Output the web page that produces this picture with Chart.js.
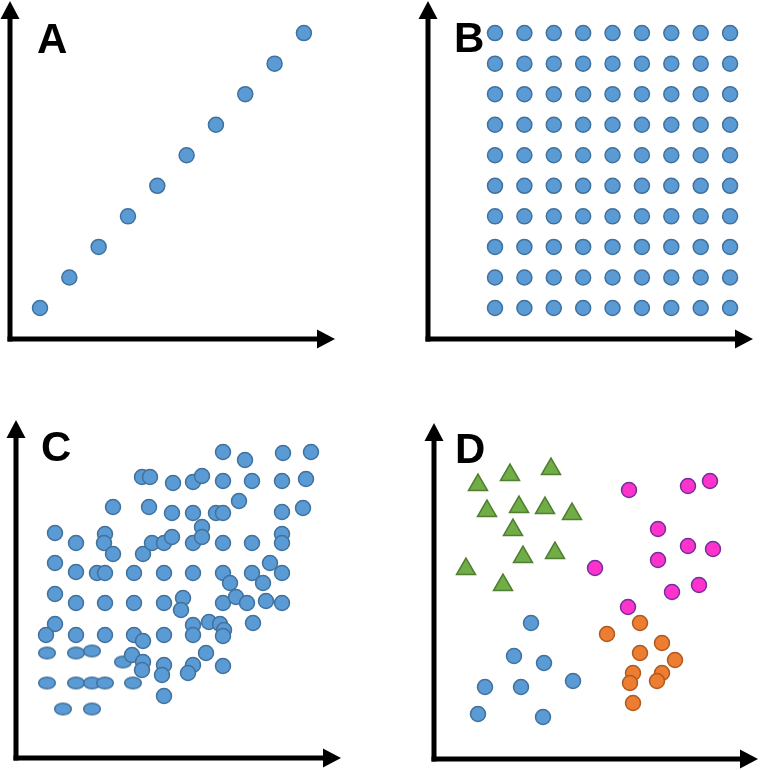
<!DOCTYPE html>
<html>
<head>
<meta charset="utf-8">
<script src="https://cdn.jsdelivr.net/npm/chart.js@4.4.1/dist/chart.umd.min.js"></script>
<style>
	body { margin: 0; background: #fff; overflow: hidden; }
	.quadro { position: absolute; width: 380px; height: 385px; }
	.quadro canvas { display: block; }
</style>
</head>
<body>
<div class="quadro" style="left:0;top:0"><canvas id="grafico_a" width="380" height="385"></canvas></div>
<div class="quadro" style="left:380px;top:0"><canvas id="grafico_b" width="380" height="385"></canvas></div>
<div class="quadro" style="left:0;top:385px"><canvas id="grafico_c" width="380" height="385"></canvas></div>
<div class="quadro" style="left:380px;top:385px"><canvas id="grafico_d" width="380" height="385"></canvas></div>
<script>
// A: linha perfeita
var linha_x = [1, 2, 3, 4, 5, 6, 7, 8, 9, 10];
var linha_y = [1, 2, 3, 4, 5, 6, 7, 8, 9, 10];

// B: grade regular
var grade_colunas = [1, 2, 3, 4, 5, 6, 7, 8, 9];
var grade_linhas = [1, 2, 3, 4, 5, 6, 7, 8, 9, 10];

// C: nuvem (circulos e elipses)
var nuvem_x = [207, 229, 267, 295,
	126, 134, 157, 177, 186, 207, 236, 266, 290,
	97, 133, 156, 177, 200, 207, 223, 266, 287,
	39, 60, 89, 88, 97, 127, 136, 148, 156, 177, 186, 186, 207, 236, 266, 266,
	39, 60, 81, 89, 118, 148, 177, 207, 236, 254, 266, 214, 247,
	39, 60, 89, 118, 148, 167, 165, 207, 220, 231, 250, 266,
	39, 30, 60, 89, 118, 127, 148, 177, 177, 193, 204, 208, 207, 237,
	116, 127, 126, 148, 146, 177, 172, 190, 207,
	148];
var nuvem_y = [306, 298, 305, 306,
	281, 281, 275, 276, 282, 277, 277, 277, 279,
	251, 251, 245, 245, 245, 245, 257, 246, 250,
	225, 215, 224, 215, 204, 204, 215, 215, 221, 215, 231, 221, 215, 215, 224, 215,
	195, 186, 185, 185, 185, 185, 185, 185, 185, 195, 185, 175, 175,
	164, 155, 155, 155, 155, 160, 148, 155, 161, 155, 157, 155,
	134, 123, 123, 123, 123, 117, 123, 133, 123, 136, 134, 128, 122, 135,
	103, 96, 88, 93, 83, 93, 85, 105, 92,
	62];
var elipse_x = [31, 60, 76, 107, 31, 60, 76, 89, 117, 47, 76];
var elipse_y = [105, 105, 107, 96, 75, 75, 75, 75, 75, 49, 49];

// D: grupos
var triangulos_x = [44, 76, 117, 53, 85, 111, 138, 79, 89, 121, 32, 69];
var triangulos_y = [274, 284, 290, 248, 252, 251, 245, 229, 202, 206, 190, 174];
var rosa_x = [195, 254, 276, 224, 254, 279, 224, 161, 265, 238, 194];
var rosa_y = [269, 273, 278, 230, 213, 210, 199, 191, 174, 167, 152];
var laranja_x = [206, 173, 228, 206, 241, 199, 228, 196, 223, 199];
var laranja_y = [136, 125, 116, 106, 99, 86, 86, 76, 78, 56];
var azul_x = [97, 80, 110, 139, 51, 87, 44, 109];
var azul_y = [136, 103, 96, 78, 72, 72, 45, 42];

var AZUL = "#5B9BD5", AZUL_BORDA = "#41719C";

function pontos(xs, ys) {
	var lista = [];
	for (var i = 0; i < xs.length; i++) lista.push({ x: xs[i], y: ys[i] });
	return lista;
}

var setas = {
	id: "setas",
	afterDraw: function (chart, args, opcoes) {
		var ctx = chart.ctx;
		var area = chart.chartArea;
		var esp = 5, cab = 18, larg = 19;
		ctx.save();
		ctx.fillStyle = "#000";
		ctx.fillRect(area.left - esp / 2, area.top + cab - 1, esp, area.bottom - area.top - cab + esp / 2 + 1);
		ctx.fillRect(area.left - esp / 2, area.bottom - esp / 2, area.right - area.left - cab + esp / 2 + 1, esp);
		ctx.beginPath();
		ctx.moveTo(area.left, area.top);
		ctx.lineTo(area.left - larg / 2, area.top + cab);
		ctx.lineTo(area.left + larg / 2, area.top + cab);
		ctx.closePath();
		ctx.fill();
		ctx.beginPath();
		ctx.moveTo(area.right, area.bottom);
		ctx.lineTo(area.right - cab, area.bottom - larg / 2);
		ctx.lineTo(area.right - cab, area.bottom + larg / 2);
		ctx.closePath();
		ctx.fill();
		ctx.font = "bold 42px 'Liberation Sans', Arial, sans-serif";
		ctx.textBaseline = "alphabetic";
		ctx.fillText(opcoes.texto, opcoes.x, opcoes.y);
		ctx.restore();
	}
};

function conjunto(dados, cor, borda, estilo, raio) {
	return {
		data: dados,
		pointStyle: estilo || "circle",
		pointRadius: raio || 7.5,
		pointBorderWidth: 1.5,
		backgroundColor: cor,
		borderColor: borda,
		clip: false
	};
}

function criarGrafico(id, datasets, escala, padding, rotulo) {
	return new Chart(document.getElementById(id), {
		type: "scatter",
		data: { datasets: datasets },
		options: {
			responsive: false,
			animation: false,
			events: [],
			layout: { padding: padding, autoPadding: false },
			scales: {
				x: { type: "linear", display: false, min: escala[0], max: escala[1] },
				y: { type: "linear", display: false, min: escala[2], max: escala[3] }
			},
			plugins: {
				legend: { display: false },
				tooltip: { enabled: false },
				setas: rotulo
			}
		},
		plugins: [setas]
	});
}

// elipse usada nas linhas de baixo de C
var elipse = document.createElement("canvas");
elipse.width = 20;
elipse.height = 15;
var ectx = elipse.getContext("2d");
ectx.beginPath();
ectx.ellipse(10, 7.5, 8.3, 5.8, 0, 0, Math.PI * 2);
ectx.fillStyle = AZUL;
ectx.fill();
ectx.lineWidth = 1.5;
ectx.strokeStyle = AZUL_BORDA;
ectx.stroke();

var grade = [];
grade_linhas.forEach(function (l) {
	grade_colunas.forEach(function (c) {
		grade.push({ x: c, y: l });
	});
});

criarGrafico("grafico_a",
	[conjunto(pontos(linha_x, linha_y), AZUL, AZUL_BORDA)],
	[-0.023, 11.06, -0.014, 11.05],
	{ left: 10, top: 1, right: 45, bottom: 46 },
	{ texto: "A", x: 37, y: 53 });

criarGrafico("grafico_b",
	[conjunto(grade, AZUL, AZUL_BORDA)],
	[-1.28, 9.78, -0.014, 11.05],
	{ left: 48, top: 1, right: 7, bottom: 46 },
	{ texto: "B", x: 74, y: 52 });

criarGrafico("grafico_c",
	[conjunto(pontos(nuvem_x, nuvem_y), AZUL, AZUL_BORDA),
	 conjunto(pontos(elipse_x, elipse_y), AZUL, AZUL_BORDA, elipse)],
	[0, 325, 0, 338],
	{ left: 16, top: 35, right: 39, bottom: 12 },
	{ texto: "C", x: 41, y: 76 });

criarGrafico("grafico_d",
	[conjunto(pontos(triangulos_x, triangulos_y), "#70AD47", "#507E32", "triangle", 11),
	 conjunto(pontos(rosa_x, rosa_y), "#FF33CC", "#7030A0"),
	 conjunto(pontos(laranja_x, laranja_y), "#ED7D31", "#AE5A21"),
	 conjunto(pontos(azul_x, azul_y), AZUL, AZUL_BORDA)],
	[0, 324, 0, 336],
	{ left: 54, top: 38, right: 2, bottom: 11 },
	{ texto: "D", x: 75, y: 78 });
</script>
</body>
</html>
